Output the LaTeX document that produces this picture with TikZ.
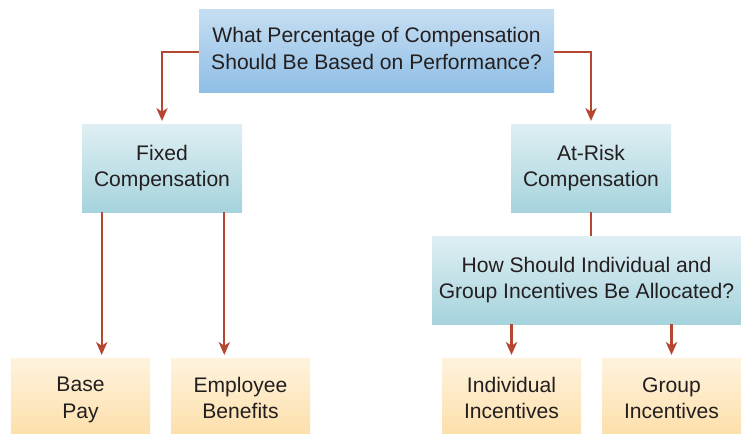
\documentclass[tikz,border=0pt]{standalone}
\usepackage{fontspec}
\setmainfont{Liberation Sans}
\usepackage{tikz}
\usetikzlibrary{positioning,arrows.meta}
\definecolor{arrowred}{HTML}{B5462F}
\definecolor{inktext}{HTML}{231F20}
\definecolor{qtop}{HTML}{C6DEF2}
\definecolor{qbot}{HTML}{8FBEE5}
\definecolor{mtop}{HTML}{DFEFF3}
\definecolor{mbot}{HTML}{A6D3DD}
\definecolor{ltop}{HTML}{FFF3DE}
\definecolor{lbot}{HTML}{FCDEA6}
\tikzset{
  boxbase/.style={rectangle, align=center, inner sep=0pt, text=inktext,
    font=\fontsize{15}{18.6}\selectfont,
    execute at begin node=\rule{0pt}{15.5pt}, execute at end node=\rule[-3pt]{0pt}{0pt}},
  question/.style={boxbase, top color=qtop, bottom color=qbot, minimum width=8.875cm, minimum height=2.075cm},
  midbox/.style={boxbase, top color=mtop, bottom color=mbot, minimum width=4cm, minimum height=2.2cm},
  leafbox/.style={boxbase, top color=ltop, bottom color=lbot, minimum width=3.475cm, minimum height=2.1cm},
  link/.style={draw=arrowred, line width=1.5pt},
  arrow/.style={link, -{Stealth[length=3.2mm, width=2.8mm, inset=0.9mm]}, shorten >=2pt}
}
\begin{document}
\begin{tikzpicture}
  \useasboundingbox (0,0) rectangle (18.525,-10.85);

  \node[question] (percent) at (9.4125,-1.2625) {What Percentage of Compensation\\ Should Be Based on Performance?};

  \node[midbox] (fixed) at (4.05,-4.2) {Fixed\\ Compensation};
  \node[midbox] (atrisk) at (14.775,-4.2) {At-Risk\\ Compensation};

  \node[midbox, minimum width=7.725cm] (alloc) at (14.6625,-7.0) {How Should Individual and\\ Group Incentives Be Allocated?};

  \node[leafbox] (basepay) at (2.0125,-10.0) {Base\\ Pay};
  \node[leafbox] (benefits) at (6.0125,-10.0) {Employee\\ Benefits};
  \node[leafbox] (indiv) at (12.7875,-10.0) {Individual\\ Incentives};
  \node[leafbox] (group) at (16.7875,-10.0) {Group\\ Incentives};

  \draw[arrow] ([yshift=-0.04cm]percent.west) -| (fixed.north);
  \draw[arrow] ([yshift=-0.04cm]percent.east) -| (atrisk.north);

  \draw[arrow] ([xshift=0.5cm]fixed.south west) -- ([xshift=0.5cm]fixed.south west |- basepay.north);
  \draw[arrow] ([xshift=-0.45cm]fixed.south east) -- ([xshift=-0.45cm]fixed.south east |- benefits.north);

  \draw[link] (atrisk.south) -- (atrisk.south |- alloc.north);

  \draw[arrow] (alloc.south -| indiv.north) -- (indiv.north);
  \draw[arrow] (alloc.south -| group.north) -- (group.north);
\end{tikzpicture}
\end{document}
